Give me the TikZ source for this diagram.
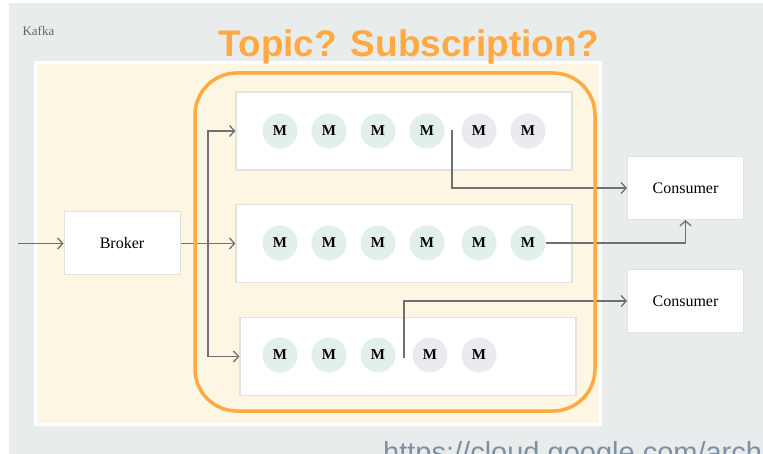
\documentclass[tikz,border=0pt]{standalone}
\usepackage{fontspec}
\setmainfont{Liberation Serif}
\newfontfamily\sansfont{Liberation Sans}
\usetikzlibrary{arrows.meta}
\definecolor{pagecolour}{RGB}{233,236,237}
\definecolor{panelcolour}{RGB}{253,246,226}
\definecolor{framecolour}{RGB}{255,169,64}
\definecolor{newmsgcolour}{RGB}{226,240,235}
\definecolor{oldmsgcolour}{RGB}{234,234,239}
\definecolor{linecolour}{RGB}{112,112,112}
\definecolor{edgecolour}{RGB}{226,226,222}
\definecolor{urlcolour}{RGB}{125,145,163}
\tikzstyle{topic} = [rectangle, minimum width=336pt, minimum height=78pt, draw=edgecolour, line width=1.2pt, fill=white]
\tikzstyle{service} = [rectangle, minimum width=116pt, minimum height=63pt, draw=edgecolour, line width=1pt, fill=white, font=\fontsize{16}{18}\selectfont]
\tikzstyle{newmsg} = [circle, minimum size=35pt, inner sep=0pt, fill=newmsgcolour, font=\fontsize{15}{17}\selectfont\bfseries]
\tikzstyle{oldmsg} = [newmsg, fill=oldmsgcolour]
\tikzstyle{arrow} = [line width=1.3pt, draw=linecolour, ->, >={Straight Barb[length=5pt,width=11pt]}]

\begin{document}
\begin{tikzpicture}[x=1pt, y=-1pt]
	\clip (0,0) rectangle (763,454);
	\fill[white] (0,0) rectangle (763,454);
	\fill[pagecolour] (9,3) rectangle (763,454);
	\draw[white, line width=3pt, fill=panelcolour] (35,63) rectangle (600,424);
	\node (kafka) [anchor=west, text=black!60, font=\fontsize{13}{15}\selectfont] at (19,31) {Kafka};
	% topics with their messages
	\node (topic1) [topic] at (404,131) {};
	\node (topic2) [topic] at (404,243.5) {};
	\node (topic3) [topic] at (408,356.5) {};
	\node (m11) [newmsg] at (280,131) {M};
	\node (m12) [newmsg] at (329,131) {M};
	\node (m13) [newmsg] at (378,131) {M};
	\node (m14) [newmsg] at (427,131) {M};
	\node (m15) [oldmsg] at (479,131) {M};
	\node (m16) [oldmsg] at (528,131) {M};
	\node (m21) [newmsg] at (280,243) {M};
	\node (m22) [newmsg] at (329,243) {M};
	\node (m23) [newmsg] at (378,243) {M};
	\node (m24) [newmsg] at (427,243) {M};
	\node (m25) [newmsg] at (479,243) {M};
	\node (m26) [newmsg] at (528,243) {M};
	\node (m31) [newmsg] at (280,355) {M};
	\node (m32) [newmsg] at (329,355) {M};
	\node (m33) [newmsg] at (378,355) {M};
	\node (m34) [oldmsg] at (430,355) {M};
	\node (m35) [oldmsg] at (479,355) {M};
	% broker and consumers
	\node (broker) [service] at (122,243.5) {Broker};
	\node (consumer1) [service] at (685.5,188) {Consumer};
	\node (consumer2) [service] at (685.5,301) {Consumer};
	\coordinate (in) at (18,243.5);
	\coordinate (fork) at (208,243.5);
	\coordinate (tap1) at (452,130);
	\coordinate (tap3) at (404,358);
	\draw [arrow] (in) -- (broker);
	\draw [arrow] (broker) -- (topic2);
	\draw [arrow] (fork) |- (topic1);
	\draw [arrow] (fork) |- (topic3);
	\draw [arrow] (tap1) |- (consumer1);
	\draw [arrow] (m26) -| (consumer1);
	\draw [arrow] (tap3) |- (consumer2);
	% subscription frame and title
	\node (frame) [draw=framecolour, line width=3.5pt, rounded corners=42pt, minimum width=400pt, minimum height=338pt] at (395,242) {};
	\node (title) [anchor=base, text=framecolour, font=\sansfont\bfseries\fontsize{37}{40}\selectfont] at (409,57) {Topic? Subscription?};
	\node (url) [anchor=base west, inner sep=0pt, text=urlcolour, font=\sansfont\fontsize{29}{32}\selectfont] at (383,462) {https://cloud.google.com/arch};
\end{tikzpicture}
\end{document}
